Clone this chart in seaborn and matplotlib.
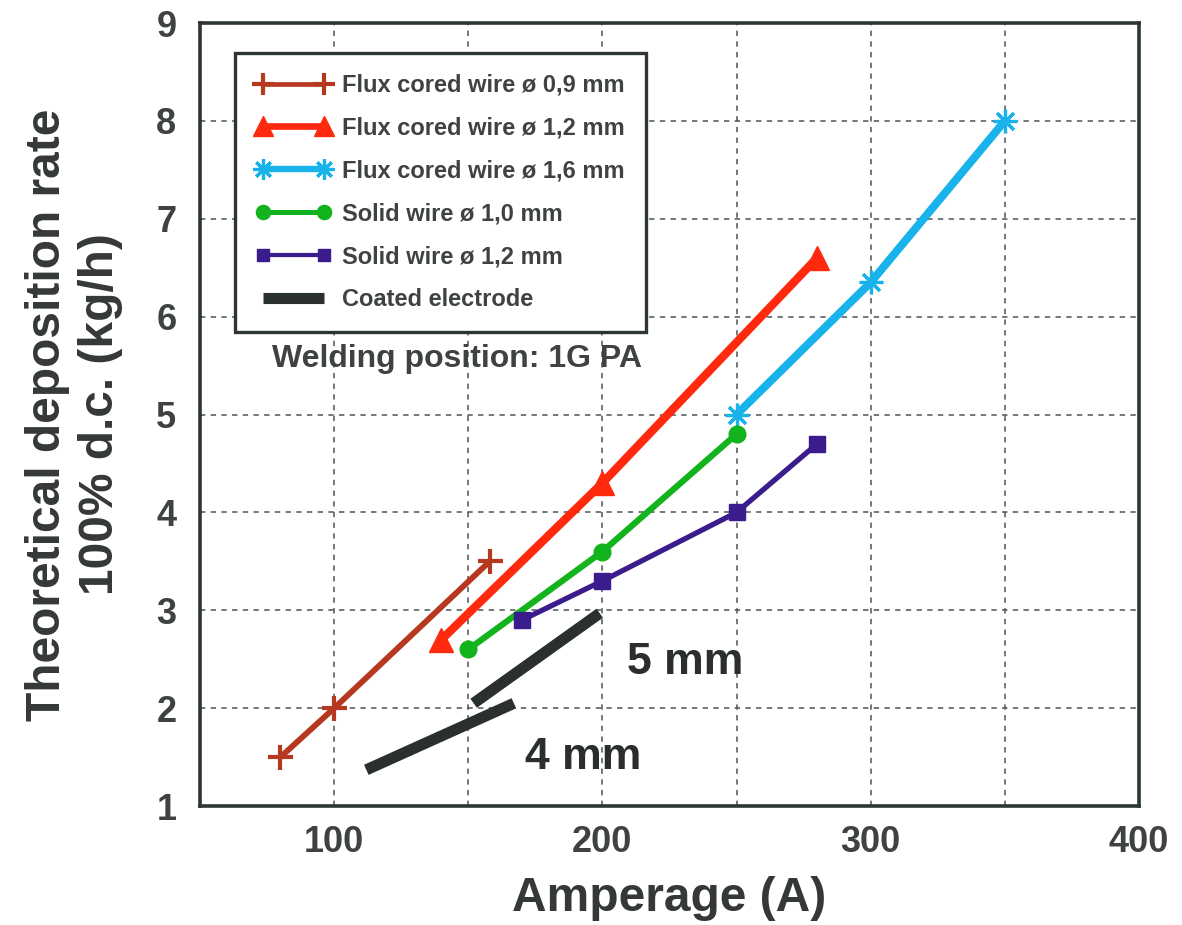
import matplotlib
matplotlib.use("Agg")
import matplotlib.pyplot as plt
from matplotlib.lines import Line2D
import seaborn as sns

# Theoretical deposition rate (kg/h, 100 % duty cycle) against welding current (A)
fcw09_amp = [80, 100, 158]
fcw09_rate = [1.5, 2.0, 3.5]
fcw12_amp = [140, 200, 280]
fcw12_rate = [2.7, 4.3, 6.6]
fcw16_amp = [250, 300, 350]
fcw16_rate = [5.0, 6.35, 8.0]
sw10_amp = [150, 200, 250]
sw10_rate = [2.6, 3.6, 4.8]
sw12_amp = [170, 200, 250, 280]
sw12_rate = [2.9, 3.3, 4.0, 4.7]
# coated electrode ranges
ce4_amp = [112, 167]
ce4_rate = [1.37, 2.05]
ce5_amp = [152, 199]
ce5_rate = [2.05, 2.97]

series_labels = [
    "Flux cored wire ø 0,9 mm",
    "Flux cored wire ø 1,2 mm",
    "Flux cored wire ø 1,6 mm",
    "Solid wire ø 1,0 mm",
    "Solid wire ø 1,2 mm",
    "Coated electrode",
]
x_ticks = [100, 200, 300, 400]
x_minor = [150, 250, 350]
y_ticks = [1, 2, 3, 4, 5, 6, 7, 8, 9]

TEXT = "#3f4242"
FRAME = "#2e3535"
GRID = "#4d5555"
C_BROWN = "#B5381F"
C_RED = "#FF2A0E"
C_BLUE = "#19B3EB"
C_GREEN = "#12B31C"
C_PURPLE = "#3B1C8C"
C_ELEC = "#2A3030"

sns.set_theme(style="white")
plt.rcParams["font.family"] = ["Liberation Sans", "DejaVu Sans"]
plt.rcParams["font.weight"] = "bold"

fig = plt.figure(figsize=(11.82, 9.25), dpi=100)
ax = fig.add_axes([0.1692, 0.1286, 0.7944, 0.8465])

asterisk = (8, 2, 0)
styles = [
    (fcw09_amp, fcw09_rate, C_BROWN, "+", 18, 3.0, 4.2),
    (fcw12_amp, fcw12_rate, C_RED, "^", 17, 1.0, 6.0),
    (fcw16_amp, fcw16_rate, C_BLUE, asterisk, 17, 2.3, 5.8),
    (sw10_amp, sw10_rate, C_GREEN, "o", 12, 1.0, 4.5),
    (sw12_amp, sw12_rate, C_PURPLE, "s", 11, 1.0, 3.8),
]

for xs, ys, col, mk, ms, mew, lw in styles:
    sns.lineplot(x=xs, y=ys, ax=ax, color=col, marker=mk, markersize=ms,
                 markeredgewidth=mew, markeredgecolor=col, markerfacecolor=col,
                 linewidth=lw, sort=False, estimator=None, zorder=4)

for xs, ys in [(ce4_amp, ce4_rate), (ce5_amp, ce5_rate)]:
    sns.lineplot(x=xs, y=ys, ax=ax, color=C_ELEC, linewidth=8,
                 solid_capstyle="butt", sort=False, estimator=None, zorder=3)

ax.set_xlim(50, 400)
ax.set_ylim(1, 9)
ax.set_xticks(x_ticks)
ax.set_xticks(x_minor, minor=True)
ax.set_yticks(y_ticks)
ax.set_xticklabels([str(v) for v in x_ticks])
ax.set_yticklabels([str(v) for v in y_ticks])
ax.tick_params(axis="both", which="both", length=0, labelsize=26,
               labelcolor=TEXT)
ax.tick_params(axis="x", pad=14)
ax.tick_params(axis="y", pad=17)
for lab in ax.get_xticklabels() + ax.get_yticklabels():
    lab.set_fontweight("bold")

ax.grid(True, which="both", color=GRID, linewidth=1.1,
        linestyle=(0, (3.5, 3.5)), zorder=1)
ax.set_axisbelow(True)
for sp in ax.spines.values():
    sp.set_color(FRAME)
    sp.set_linewidth(2.6)
    sp.set_visible(True)

ax.set_xlabel("Amperage (A)", fontsize=34.5, fontweight="bold",
              color="#353838", labelpad=11)
ax.set_ylabel("Theoretical deposition rate\n100% d.c. (kg/h)", fontsize=34.5,
              fontweight="bold", color="#353838", labelpad=24,
              linespacing=1.22)

ax.text(145.8, 5.57, "Welding position: 1G PA", fontsize=23,
        fontweight="bold", color=TEXT, ha="center", va="center", zorder=5)
ax.text(230.8, 2.47, "5 mm", fontsize=32, fontweight="bold", color="#2a2e2e",
        ha="center", va="center", zorder=5)
ax.text(192.7, 1.50, "4 mm", fontsize=32, fontweight="bold", color="#2a2e2e",
        ha="center", va="center", zorder=5)

handles = []
for (xs, ys, col, mk, ms, mew, lw), lab in zip(styles, series_labels):
    handles.append(Line2D([0, 1], [0, 0], color=col, marker=mk,
                          markersize=ms * 0.85, markeredgewidth=mew,
                          markeredgecolor=col, markerfacecolor=col,
                          linewidth=lw * 0.8, label=lab))
handles.append(Line2D([0, 1], [0, 0], color=C_ELEC, linewidth=8,
                      solid_capstyle="butt", label=series_labels[-1]))

leg = ax.legend(handles=handles, loc="upper left",
                bbox_to_anchor=(0.0373, 0.9617), borderaxespad=0,
                fontsize=17, handlelength=3.2, handletextpad=0.45,
                labelspacing=0.84, borderpad=0.88, fancybox=False,
                framealpha=1, numpoints=2)
leg.get_frame().set_edgecolor(FRAME)
leg.get_frame().set_linewidth(2.4)
leg.set_zorder(6)
for t in leg.get_texts():
    t.set_color(TEXT)
    t.set_fontweight("bold")

fig.savefig("out.png", dpi=100, facecolor="white")
